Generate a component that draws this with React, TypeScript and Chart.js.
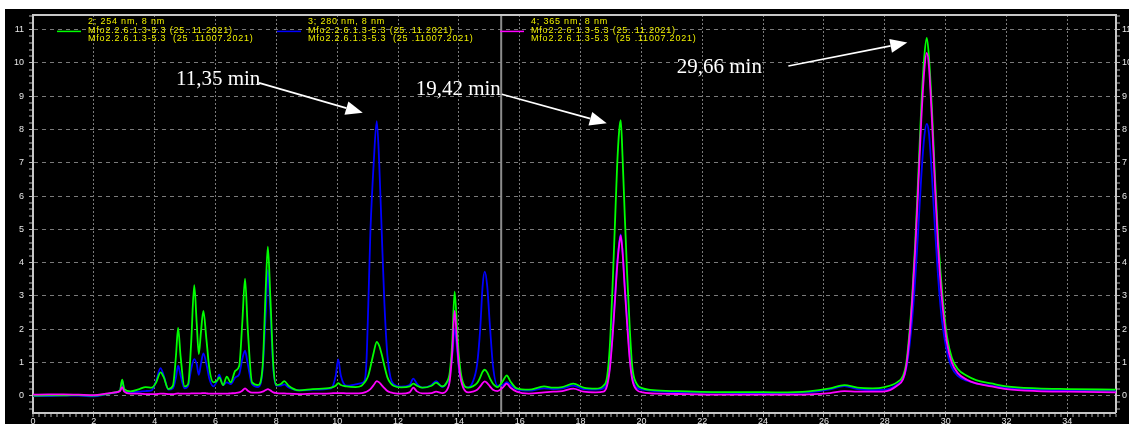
import React, { useEffect, useRef } from 'react';
import { Chart, registerables } from 'chart.js';

Chart.register(...registerables);

// retention time (min)
const times = [
  0.0, 0.5, 1.0, 1.5, 2.0, 2.4, 2.7, 2.86, 2.93, 3.0,
  3.2, 3.5, 3.7, 3.9, 4.05, 4.19, 4.3, 4.45, 4.6, 4.7,
  4.77, 4.85, 4.98, 5.1, 5.2, 5.3, 5.38, 5.45, 5.52, 5.6,
  5.7, 5.8, 5.93, 6.05, 6.12, 6.25, 6.37, 6.5, 6.65, 6.78,
  6.88, 6.97, 7.06, 7.2, 7.4, 7.55, 7.65, 7.72, 7.8, 7.9,
  8.0, 8.15, 8.26, 8.4, 8.75, 9.2, 9.8, 9.95, 10.03, 10.12,
  10.3, 10.6, 10.8, 10.9, 10.96, 11.02, 11.09, 11.2, 11.3, 11.38,
  11.46, 11.55, 11.65, 11.75, 11.85, 12.1, 12.38, 12.5, 12.62, 12.8,
  13.1, 13.25, 13.45, 13.6, 13.7, 13.78, 13.86, 13.94, 14.0, 14.1,
  14.3, 14.45, 14.6, 14.7, 14.78, 14.85, 14.93, 15.02, 15.12, 15.27,
  15.45, 15.57, 15.7, 15.9, 16.3, 16.8, 17.1, 17.4, 17.76, 18.1,
  18.5, 18.75, 18.87, 18.96, 19.05, 19.13, 19.2, 19.27, 19.32, 19.38,
  19.45, 19.53, 19.62, 19.7, 19.84, 20.05, 20.5, 21.5, 22.5, 23.5,
  24.5, 25.5, 26.2, 26.67, 27.1, 27.6, 28.0, 28.4, 28.6, 28.7,
  28.8, 28.9, 29.0, 29.1, 29.2, 29.3, 29.38, 29.45, 29.55, 29.65,
  29.75, 29.85, 29.95, 30.05, 30.2, 30.4, 30.7, 31.0, 31.5, 32.0,
  33.0, 34.0, 35.6,
];

// 254 nm (green)
const signal254 = [
  0.00, 0.01, 0.01, 0.02, 0.00, 0.05, 0.10, 0.16, 0.48, 0.20,
  0.13, 0.20, 0.26, 0.24, 0.40, 0.70, 0.55, 0.20, 0.30, 1.20,
  2.04, 1.20, 0.28, 0.35, 1.60, 3.32, 2.20, 1.25, 1.90, 2.55,
  1.70, 0.80, 0.40, 0.45, 0.55, 0.32, 0.57, 0.40, 0.75, 0.90,
  2.20, 3.52, 2.00, 0.40, 0.32, 0.90, 3.20, 4.48, 3.00, 0.90,
  0.32, 0.35, 0.44, 0.30, 0.16, 0.20, 0.24, 0.30, 0.38, 0.32,
  0.28, 0.26, 0.30, 0.40, 0.48, 0.60, 0.85, 1.30, 1.62, 1.50,
  1.25, 0.90, 0.55, 0.38, 0.30, 0.25, 0.28, 0.36, 0.30, 0.24,
  0.30, 0.39, 0.28, 0.40, 0.70, 1.60, 3.13, 2.00, 1.20, 0.50,
  0.24, 0.28, 0.38, 0.55, 0.72, 0.78, 0.70, 0.52, 0.36, 0.26,
  0.45, 0.61, 0.42, 0.22, 0.18, 0.28, 0.24, 0.26, 0.36, 0.24,
  0.21, 0.30, 0.56, 1.46, 3.27, 5.17, 6.87, 7.98, 8.28, 7.17,
  5.47, 3.67, 1.96, 0.86, 0.36, 0.22, 0.16, 0.13, 0.11, 0.11,
  0.10, 0.13, 0.22, 0.32, 0.24, 0.22, 0.26, 0.40, 0.60, 0.95,
  1.80, 3.00, 4.60, 6.60, 8.70, 10.20, 10.75, 10.20, 8.60, 6.60,
  4.80, 3.50, 2.50, 1.75, 1.15, 0.80, 0.60, 0.47, 0.37, 0.28,
  0.22, 0.20, 0.18,
];

// 280 nm (blue)
const signal280 = [
  -0.01, -0.01, 0.00, 0.00, -0.02, 0.04, 0.09, 0.15, 0.45, 0.18,
  0.10, 0.12, 0.14, 0.16, 0.45, 0.83, 0.60, 0.18, 0.22, 0.55,
  0.90, 0.62, 0.22, 0.30, 0.80, 1.10, 0.95, 0.63, 0.95, 1.27,
  0.95, 0.50, 0.28, 0.45, 0.63, 0.32, 0.40, 0.35, 0.55, 0.65,
  1.10, 1.35, 0.95, 0.35, 0.26, 0.80, 2.50, 3.78, 2.60, 0.80,
  0.30, 0.30, 0.34, 0.25, 0.16, 0.18, 0.22, 0.60, 1.09, 0.60,
  0.30, 0.34, 0.38, 0.45, 1.00, 2.67, 4.90, 7.00, 8.25, 7.00,
  5.00, 2.80, 1.20, 0.55, 0.35, 0.27, 0.32, 0.51, 0.36, 0.24,
  0.32, 0.44, 0.26, 0.38, 0.60, 1.20, 2.00, 1.40, 0.80, 0.40,
  0.25, 0.40, 0.95, 2.00, 3.30, 3.73, 3.30, 2.10, 0.90, 0.30,
  0.32, 0.41, 0.32, 0.20, 0.15, 0.22, 0.20, 0.22, 0.30, 0.20,
  0.18, 0.22, 0.40, 0.85, 1.85, 2.95, 3.95, 4.60, 4.85, 4.35,
  3.35, 2.25, 1.15, 0.55, 0.24, 0.18, 0.13, 0.10, 0.09, 0.08,
  0.08, 0.10, 0.19, 0.29, 0.20, 0.17, 0.18, 0.33, 0.50, 0.80,
  1.40, 2.30, 3.50, 5.00, 6.60, 7.80, 8.17, 7.90, 6.60, 5.00,
  3.60, 2.50, 1.80, 1.30, 0.85, 0.60, 0.45, 0.37, 0.30, 0.24,
  0.18, 0.16, 0.15,
];

// 365 nm (magenta)
const signal365 = [
  0.03, 0.04, 0.04, 0.03, 0.02, 0.06, 0.10, 0.14, 0.26, 0.12,
  0.06, 0.06, 0.05, 0.05, 0.05, 0.06, 0.06, 0.05, 0.05, 0.06,
  0.07, 0.06, 0.06, 0.06, 0.07, 0.07, 0.07, 0.07, 0.07, 0.08,
  0.07, 0.06, 0.06, 0.06, 0.06, 0.06, 0.06, 0.07, 0.08, 0.10,
  0.15, 0.22, 0.15, 0.09, 0.09, 0.12, 0.17, 0.20, 0.16, 0.10,
  0.08, 0.07, 0.07, 0.06, 0.05, 0.06, 0.07, 0.08, 0.08, 0.08,
  0.07, 0.07, 0.08, 0.10, 0.12, 0.15, 0.20, 0.32, 0.44, 0.40,
  0.32, 0.23, 0.14, 0.10, 0.08, 0.06, 0.10, 0.24, 0.13, 0.07,
  0.08, 0.12, 0.08, 0.16, 0.45, 1.30, 2.55, 1.60, 0.90, 0.35,
  0.10, 0.12, 0.18, 0.28, 0.38, 0.43, 0.38, 0.28, 0.18, 0.14,
  0.25, 0.36, 0.24, 0.12, 0.06, 0.10, 0.12, 0.14, 0.21, 0.12,
  0.10, 0.12, 0.30, 0.80, 1.75, 2.85, 3.85, 4.55, 4.82, 4.30,
  3.25, 2.15, 1.05, 0.48, 0.18, 0.10, 0.06, 0.05, 0.03, 0.03,
  0.03, 0.04, 0.08, 0.14, 0.12, 0.12, 0.13, 0.30, 0.50, 0.85,
  1.65, 2.85, 4.40, 6.30, 8.30, 9.80, 10.30, 9.90, 8.30, 6.30,
  4.50, 3.20, 2.25, 1.55, 1.00, 0.68, 0.48, 0.37, 0.28, 0.20,
  0.14, 0.12, 0.10,
];

const xMin = 0;
const xMax = 35.6;
const yMin = -0.52;
const yMax = 11.44;
const cursorTime = 15.39;

const channelTitles = ['2; 254 nm, 8 nm', '3; 280 nm, 8 nm', '4; 365 nm, 8 nm'];
const sampleNames = ['Mfo2.2.6.1.3-5.3 (25..11.2021)', 'Mfo2.2.6.1.3-5.3  (25 .11007.2021)'];
const channelColors = ['#00ff00', '#0000ff', '#ff00ff'];

const peakLabels = ['11,35 min', '19,42 min', '29,66 min'];
// [time, value] anchors for label text, arrow start and arrow tip
const labelAnchors = [[4.70, 9.34], [12.58, 9.04], [21.16, 9.70]];
const arrowStarts = [[7.43, 9.40], [15.41, 9.06], [24.83, 9.91]];
const arrowTips = [[10.84, 8.50], [18.86, 8.19], [28.74, 10.61]];

const isMultiple = (v: number, step: number) => Math.abs(v / step - Math.round(v / step)) < 1e-6;

const overlayPlugin = {
  id: 'overlay',
  beforeDatasetsDraw(chart: any) {
    const { ctx, chartArea: a, scales } = chart;
    const cx = scales.x.getPixelForValue(cursorTime);
    ctx.save();
    ctx.strokeStyle = '#8c8c8c';
    ctx.lineWidth = 2;
    ctx.beginPath();
    ctx.moveTo(cx, a.top);
    ctx.lineTo(cx, a.bottom);
    ctx.stroke();
    ctx.restore();
  },
  afterDatasetsDraw(chart: any) {
    const { ctx, chartArea: a, scales } = chart;
    ctx.save();
    // top frame
    ctx.strokeStyle = '#c8c8c8';
    ctx.lineWidth = 2;
    ctx.beginPath();
    ctx.moveTo(a.left, a.top);
    ctx.lineTo(a.right, a.top);
    ctx.stroke();

    // legend
    const colX = [55, 275, 498];
    ctx.font = '9px "Liberation Sans", Arial, sans-serif';
    (ctx as any).letterSpacing = '0.8px';
    ctx.textBaseline = 'middle';
    ctx.textAlign = 'left';
    for (let i = 0; i < 3; i++) {
      const tx = a.left + colX[i];
      ctx.strokeStyle = channelColors[i];
      ctx.lineWidth = 1.5;
      ctx.beginPath();
      ctx.moveTo(tx - 31, a.top + 16.4);
      ctx.lineTo(tx - 7, a.top + 16.4);
      ctx.stroke();
      ctx.fillStyle = '#f0f000';
      ctx.fillText(channelTitles[i], tx, a.top + 7);
      ctx.fillText(sampleNames[0], tx, a.top + 15.6);
      ctx.fillText(sampleNames[1], tx, a.top + 23.8);
    }
    (ctx as any).letterSpacing = '0px';

    // peak annotations
    ctx.font = '21px "Liberation Serif", "Times New Roman", serif';
    ctx.textBaseline = 'alphabetic';
    ctx.fillStyle = '#ffffff';
    ctx.strokeStyle = '#ffffff';
    for (let i = 0; i < peakLabels.length; i++) {
      const lx = scales.x.getPixelForValue(labelAnchors[i][0]);
      const ly = scales.y.getPixelForValue(labelAnchors[i][1]);
      ctx.fillText(peakLabels[i], lx, ly);
      const sx = scales.x.getPixelForValue(arrowStarts[i][0]);
      const sy = scales.y.getPixelForValue(arrowStarts[i][1]);
      const ex = scales.x.getPixelForValue(arrowTips[i][0]);
      const ey = scales.y.getPixelForValue(arrowTips[i][1]);
      const ang = Math.atan2(ey - sy, ex - sx);
      const head = 17;
      const half = 7;
      const bx = ex - head * Math.cos(ang);
      const by = ey - head * Math.sin(ang);
      ctx.lineWidth = 1.6;
      ctx.beginPath();
      ctx.moveTo(sx, sy);
      ctx.lineTo(bx, by);
      ctx.stroke();
      ctx.beginPath();
      ctx.moveTo(ex, ey);
      ctx.lineTo(bx + half * Math.sin(ang), by - half * Math.cos(ang));
      ctx.lineTo(bx - half * Math.sin(ang), by + half * Math.cos(ang));
      ctx.closePath();
      ctx.fill();
    }
    ctx.restore();
  },
};

const tickFont = { family: '"Liberation Sans", Arial, sans-serif', size: 9 };

function makeYAxis(position: 'left' | 'right', width: number, padding: number, drawGrid: boolean) {
  return {
    type: 'linear',
    position,
    min: yMin,
    max: yMax,
    afterFit: (s: any) => {
      s.width = width;
      s.paddingTop = 0;
      s.paddingBottom = 0;
    },
    afterBuildTicks: (s: any) => { s.ticks = s.ticks.filter((t: any) => isMultiple(t.value, 0.2)); },
    ticks: {
      stepSize: 0.2,
      includeBounds: false,
      autoSkip: false,
      color: '#e8e8e8',
      font: tickFont,
      padding,
      callback: (v: number) => (isMultiple(v, 1) ? String(Math.round(v)) : ''),
    },
    grid: {
      drawOnChartArea: drawGrid,
      color: '#7a7a7a',
      lineWidth: (c: any) => (c.tick && isMultiple(c.tick.value, 1) ? 1 : 0),
      tickLength: 4,
      tickWidth: 1,
      tickColor: '#b4b4b4',
    },
    border: { display: true, color: '#c8c8c8', width: 2, dash: [4, 4] },
  };
}

export default function App() {
  const canvasRef = useRef<HTMLCanvasElement | null>(null);

  useEffect(() => {
    if (!canvasRef.current) return;
    const mk = (vals: number[]) => times.map((t, i) => ({ x: t, y: vals[i] }));
    const chart = new Chart(canvasRef.current, {
      type: 'line',
      data: {
        datasets: [
          { label: channelTitles[0], data: mk(signal254), borderColor: channelColors[0], order: 1 },
          { label: channelTitles[1], data: mk(signal280), borderColor: channelColors[1], order: 2 },
          { label: channelTitles[2], data: mk(signal365), borderColor: channelColors[2], order: 0 },
        ],
      },
      options: {
        animation: false,
        responsive: false,
        devicePixelRatio: 1,
        layout: { padding: { top: 6, left: 0, right: 0, bottom: 0 } },
        plugins: { legend: { display: false }, tooltip: { enabled: false } },
        elements: {
          point: { radius: 0 },
          line: { borderWidth: 1.8, cubicInterpolationMode: 'monotone', fill: false },
        },
        scales: {
          x: {
            type: 'linear',
            position: 'bottom',
            min: xMin,
            max: xMax,
            afterFit: (s: any) => {
              s.height = 36;
              s.paddingLeft = 0;
              s.paddingRight = 0;
            },
            afterBuildTicks: (s: any) => { s.ticks = s.ticks.filter((t: any) => isMultiple(t.value, 0.2)); },
            ticks: {
              stepSize: 0.2,
              includeBounds: false,
              autoSkip: false,
              maxRotation: 0,
              minRotation: 0,
              color: '#e8e8e8',
              font: tickFont,
              padding: -1,
              callback: (v: number) => (isMultiple(v, 2) ? String(Math.round(v)) : ''),
            },
            grid: {
              color: '#7a7a7a',
              lineWidth: (c: any) => (c.tick && c.tick.value > 0.01 && isMultiple(c.tick.value, 2) ? 1 : 0),
              tickLength: 4,
              tickWidth: 1,
              tickColor: '#b4b4b4',
            },
            border: { display: true, color: '#c8c8c8', width: 2, dash: [2, 2] },
          },
          y: makeYAxis('left', 28, 5, true),
          y2: makeYAxis('right', 29, 2, false),
        },
      } as any,
      plugins: [overlayPlugin],
    } as any);
    return () => chart.destroy();
  }, []);

  return (
    <div
      style={{
        position: 'fixed',
        left: 5,
        top: 9,
        width: 1124,
        height: 415,
        overflow: 'hidden',
        background: '#000',
      }}
    >
      <canvas ref={canvasRef} width={1140} height={440} style={{ display: 'block', width: 1140, height: 440 }} />
    </div>
  );
}
